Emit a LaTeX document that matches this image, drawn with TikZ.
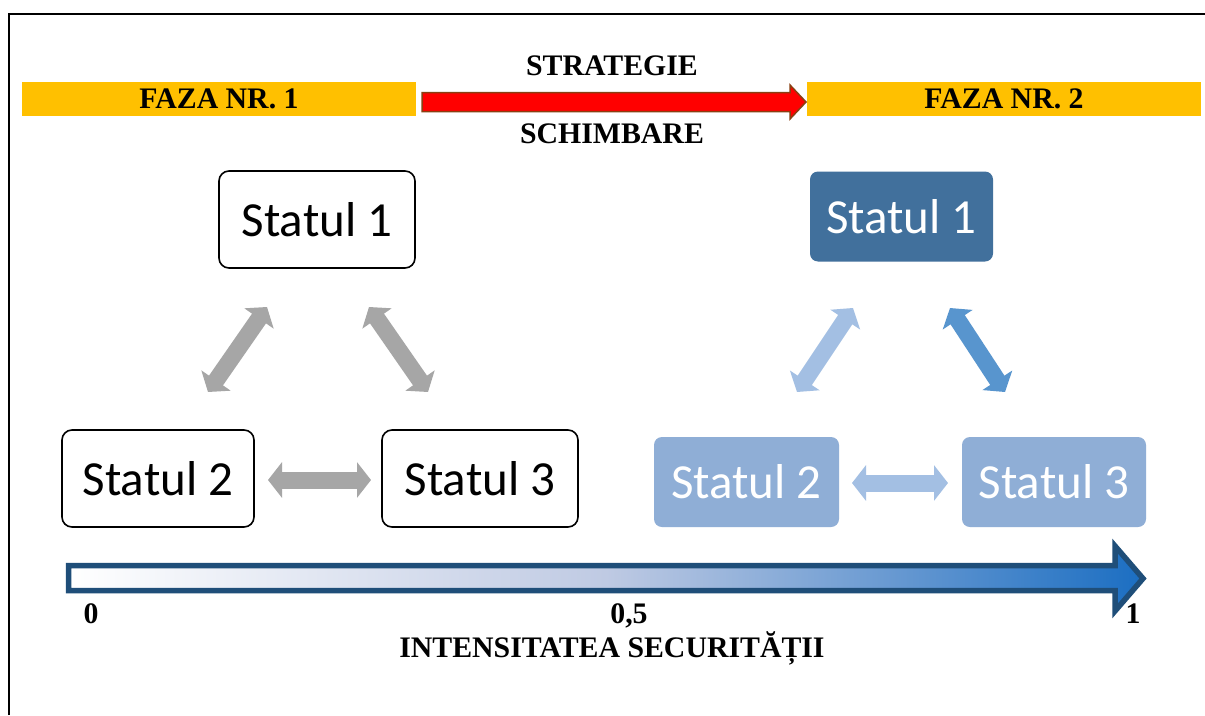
\documentclass[tikz,border=0pt]{standalone}
\usepackage{fontspec}
\setmainfont{Liberation Serif}
\newfontfamily\statfont{Carlito}
\usetikzlibrary{arrows.meta,calc}
\definecolor{barY}{HTML}{FFC000}
\definecolor{arrRed}{HTML}{FF0000}
\definecolor{arrBrown}{HTML}{8A3F12}
\definecolor{grayArr}{HTML}{A6A6A6}
\definecolor{darkBox}{HTML}{41709C}
\definecolor{lightBox}{HTML}{8FAED6}
\definecolor{lightArr}{HTML}{A3BFE3}
\definecolor{darkArr}{HTML}{5895CE}
\definecolor{axisBorder}{HTML}{1F4E79}
\definecolor{axisMid}{HTML}{BFCAE3}
\definecolor{axisEnd}{HTML}{1B6EC2}
\begin{document}
\begin{tikzpicture}[x=1pt,y=-1pt,
  bar/.style={fill=barY, minimum width=394pt, minimum height=34pt, inner sep=0pt,
    font=\bfseries\fontsize{29.8}{31}\selectfont},
  lbl/.style={font=\bfseries\fontsize{29.8}{31}\selectfont, inner sep=0pt},
  lbox/.style={draw=black, line width=1.6pt, fill=white, rounded corners=10pt,
    minimum height=97pt, inner sep=0pt, font=\statfont\fontsize{49}{50}\selectfont},
  rbox/.style={rounded corners=8pt, minimum height=90pt, inner sep=0pt, text=white,
    font=\statfont\fontsize{49}{50}\selectfont},
  blockarr/.style={line width=17pt,
    {Triangle[length=14pt,width=35pt]}-{Triangle[length=14pt,width=35pt]}}
]
\useasboundingbox (0,0) rectangle (1205,715);
\fill[white] (0,0) rectangle (1205,715);
% frame
\draw[line width=2.5pt] (9,715) -- (9,14) -- (1205,14);

% phase bars
\node[bar] (f1) at (219,99) {FAZA NR. 1};
\node[bar] (f2) at (1004,99) {FAZA NR. 2};
\node[lbl] (strat) at (612,66) {STRATEGIE};
\node[lbl] (schimb) at (612,134) {SCHIMBARE};

% red arrow
\coordinate (rs) at (422,102);
\coordinate (re) at (806,102);
\draw[fill=arrRed, draw=arrBrown, line width=1.5pt]
  ($(rs)+(0,-9.5)$) -- ($(re)+(-16,-9.5)$) -- ($(re)+(-16,-17)$) -- (re)
  -- ($(re)+(-16,17)$) -- ($(re)+(-16,9.5)$) -- ($(rs)+(0,9.5)$) -- cycle;

% left triangle (phase 1)
\node[lbox, minimum width=196pt] (l1) at (317,219.5) {Statul 1};
\node[lbox, minimum width=192pt] (l2) at (158,478.5) {Statul 2};
\node[lbox, minimum width=196pt] (l3) at (480,478.5) {Statul 3};
\coordinate (a1s) at (208,392); \coordinate (a1e) at (267,307);
\coordinate (a2s) at (428,392); \coordinate (a2e) at (369,307);
\coordinate (a3s) at (268,480); \coordinate (a3e) at (371,480);
\draw[blockarr, grayArr] (a1s) -- (a1e);
\draw[blockarr, grayArr] (a2s) -- (a2e);
\draw[blockarr, grayArr] (a3s) -- (a3e);

% right triangle (phase 2)
\node[rbox, fill=darkBox, minimum width=183pt] (r1) at (901.5,216.5) {Statul 1};
\node[rbox, fill=lightBox, minimum width=185pt] (r2) at (746.5,482) {Statul 2};
\node[rbox, fill=lightBox, minimum width=184pt] (r3) at (1054,482) {Statul 3};
\coordinate (b1s) at (797,392); \coordinate (b1e) at (853,308);
\coordinate (b2s) at (1005,392); \coordinate (b2e) at (950,308);
\coordinate (b3s) at (852,483); \coordinate (b3e) at (948,483);
\draw[blockarr, lightArr] (b1s) -- (b1e);
\draw[blockarr, darkArr] (b2s) -- (b2e);
\draw[blockarr, lightArr] (b3s) -- (b3e);

% intensity axis
\shadedraw[left color=white, right color=axisEnd, middle color=axisMid,
  draw=axisBorder, line width=5.5pt, line join=miter]
  (68.5,565.5) -- (1115,565.5) -- (1115,546) -- (1143,578.5) -- (1115,611)
  -- (1115,590.5) -- (68.5,590.5) -- cycle;
\node[lbl, anchor=base] (t0) at (91,623) {0};
\node[lbl, anchor=base] (t05) at (629,623) {0,5};
\node[lbl, anchor=base] (t1) at (1133,623) {1};
\node[lbl, anchor=base] (axis) at (612,657) {INTENSITATEA SECURITĂȚII};
\end{tikzpicture}
\end{document}
